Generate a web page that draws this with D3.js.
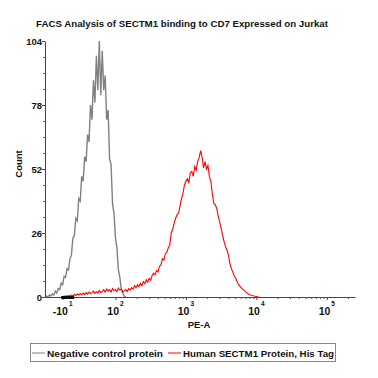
<!DOCTYPE html>
<html>
<head>
<meta charset="utf-8">
<script src="https://cdn.jsdelivr.net/npm/d3@7"></script>
<style>
  body { margin: 0; background: #fff; }
  text { font-family: 'Liberation Sans', Arial, sans-serif; font-weight: bold; fill: #111; }
</style>
</head>
<body>
<div id="chart"></div>
<script>
// Histogram data, x in log decades of PE-A (display units), y = count
const binStep = 1 / 48;

const negativeStart = 1.0;
const negativeCounts = [
  0, 0.4, 0, 0.8, 0.4, 1.2, 0.8, 2.4, 1.6, 3.4, 3.0, 5.6, 5.0, 8.4, 8.0, 11.5,
  11.0, 15.5, 17.0, 24.0, 25.0, 32.0, 31.0, 40.0, 39.0, 49.0, 47.0, 57.0, 55.0,
  66.0, 63.0, 78.0, 72.0, 88.0, 79.0, 98.0, 84.0, 104.0, 82.0, 100.0, 84.0,
  90.0, 72.0, 76.0, 56.0, 54.0, 38.0, 34.0, 24.0, 20.0, 11.0, 8.0, 3.0, 1.6, 0.4, 0
];

const sectm1Start = 1.25;
const sectm1Counts = [
  0.3, 0.2, 0.5, 0.3, 0.6, 0.4, 0.8, 0.5, 1.0, 0.6, 1.2, 0.8, 1.4, 0.9, 1.6, 1.0,
  1.8, 1.2, 2.0, 1.3, 1.8, 2.4, 1.5, 2.2, 1.6, 2.6, 1.8, 2.2, 3.0, 2.0, 3.2, 2.4,
  3.0, 2.0, 3.4, 2.6, 3.0, 2.2, 3.6, 2.8, 3.2, 2.0, 2.6, 3.0, 2.2, 3.4, 2.8, 3.8,
  3.2, 4.6, 3.8, 5.0, 4.2, 5.5, 4.6, 6.2, 5.4, 7.0, 6.0, 7.6, 6.8, 8.8, 9.6, 9.0,
  10.8, 10.2, 12.5, 13.0, 15.5, 15.0, 17.5, 18.2, 20.0, 21.0, 26.0, 27.5, 30.0,
  32.0, 33.5, 34.0, 37.0, 40.0, 42.0, 45.5, 47.0, 48.0, 46.5, 50.5, 51.0, 49.0,
  53.0, 51.5, 55.0, 56.5, 59.5, 57.0, 52.5, 55.0, 52.0, 53.5, 49.0, 47.0, 42.0,
  38.0, 37.5, 36.0, 33.0, 30.5, 28.0, 25.0, 22.5, 20.5, 19.0, 17.0, 13.5, 11.5,
  10.0, 8.5, 7.5, 6.0, 5.0, 4.2, 3.5, 3.0, 2.5, 2.0, 1.5, 1.0, 0.8, 0.6, 0.5,
  0.3, 0.2, 0, 0
];

const yTicks = [0, 26, 52, 78, 104];
const xTickDecades = [1.25, 2, 3, 4, 5];
const xTickBases = ['-10', '10', '10', '10', '10'];
const xTickExponents = ['1', '2', '3', '4', '5'];

const seriesNames = ['Negative control protein', 'Human SECTM1 Protein, His Tag'];
const seriesColors = ['#808080', '#ff0000'];

const width = 378;
const height = 378;
const margin = { top: 41, right: 23, bottom: 82, left: 45 };

const svg = d3.select('#chart').append('svg')
  .attr('width', width)
  .attr('height', height);

const x = d3.scaleLinear()
  .domain([1.0, 5.4])
  .range([margin.left, width - margin.right]);

const y = d3.scaleLinear()
  .domain([0, 104])
  .range([height - margin.bottom + 1, margin.top]);

// title
svg.append('text')
  .attr('x', 182)
  .attr('y', 27)
  .attr('text-anchor', 'middle')
  .attr('font-size', 9.5)
  .attr('textLength', 292)
  .attr('lengthAdjust', 'spacingAndGlyphs')
  .text('FACS Analysis of SECTM1 binding to CD7 Expressed on Jurkat');

// histograms
const toPoints = (start, counts) => counts.map((c, i) => [start + i * binStep, c]);
const line = d3.line().x(d => x(d[0])).y(d => y(d[1]));

svg.append('path')
  .datum(toPoints(negativeStart, negativeCounts))
  .attr('fill', 'none')
  .attr('stroke', seriesColors[0])
  .attr('stroke-width', 1.4)
  .attr('d', line);

svg.append('path')
  .datum(toPoints(sectm1Start, sectm1Counts))
  .attr('fill', 'none')
  .attr('stroke', seriesColors[1])
  .attr('stroke-width', 1.1)
  .attr('d', line);

// y axis
const yAxis = svg.append('g')
  .attr('transform', `translate(${margin.left},0)`)
  .call(d3.axisLeft(y).tickValues(yTicks).tickSize(3).tickSizeOuter(0));
yAxis.select('.domain').attr('stroke', '#444');
yAxis.selectAll('.tick line').attr('stroke', '#444');
yAxis.selectAll('.tick text')
  .attr('x', -3)
  .attr('font-size', 9.5)
  .attr('font-family', null);

const yMinor = d3.range(0, 104, 6.5).filter(v => v % 26 !== 0);
svg.append('g')
  .attr('transform', `translate(${margin.left},0)`)
  .call(d3.axisLeft(y).tickValues(yMinor).tickSize(2).tickFormat(''))
  .call(g => g.select('.domain').remove())
  .selectAll('line').attr('stroke', '#666');

svg.append('text')
  .attr('transform', `translate(22,164) rotate(-90)`)
  .attr('text-anchor', 'middle')
  .attr('font-size', 9.5)
  .text('Count');

// x axis
const baseY = y(0);
const xAxis = svg.append('g')
  .attr('transform', `translate(0,${baseY})`)
  .call(d3.axisBottom(x).tickValues(xTickDecades).tickSize(3).tickSizeOuter(0).tickFormat(''));
xAxis.select('.domain').attr('stroke', '#444');
xAxis.selectAll('.tick line').attr('stroke', '#444');

const xMinor = [];
[2, 3, 4, 5].forEach(n => {
  for (let k = 2; k <= 9; k++) {
    const v = n + Math.log10(k);
    if (v < 5.4) xMinor.push(v);
  }
});
svg.append('g')
  .attr('transform', `translate(0,${baseY})`)
  .call(d3.axisBottom(x).tickValues(xMinor).tickSize(2).tickFormat(''))
  .call(g => g.select('.domain').remove())
  .selectAll('line').attr('stroke', '#555');

// crowded ticks of the linear region around zero
svg.append('g')
  .attr('transform', `translate(0,${baseY - 1})`)
  .call(d3.axisBottom(x).tickValues(d3.range(1.23, 1.41, 0.01)).tickSize(3).tickFormat(''))
  .call(g => g.select('.domain').remove())
  .selectAll('line').attr('stroke', '#000');

const xLabel = svg.append('g').selectAll('text')
  .data(xTickDecades)
  .join('text')
  .attr('x', d => x(d))
  .attr('y', 315)
  .attr('text-anchor', 'middle')
  .attr('font-size', 10.5);
xLabel.append('tspan').text((d, i) => xTickBases[i]);
xLabel.append('tspan')
  .attr('dy', -9)
  .attr('dx', 1)
  .attr('font-size', 6.5)
  .text((d, i) => xTickExponents[i]);

svg.append('text')
  .attr('x', 199)
  .attr('y', 328)
  .attr('text-anchor', 'middle')
  .attr('font-size', 9.5)
  .text('PE-A');

// legend
svg.append('rect')
  .attr('x', 30.5)
  .attr('y', 343.5)
  .attr('width', 305)
  .attr('height', 18)
  .attr('fill', 'none')
  .attr('stroke', '#888');

const legendX = [32, 168];
const legendTextX = [47, 183];
const legendTextW = [116, 151];
seriesNames.forEach((name, i) => {
  svg.append('line')
    .attr('x1', legendX[i]).attr('x2', legendX[i] + 13)
    .attr('y1', 353).attr('y2', 353)
    .attr('stroke', seriesColors[i])
    .attr('stroke-width', 1);
  svg.append('text')
    .attr('x', legendTextX[i])
    .attr('y', 356.5)
    .attr('font-size', 9)
    .attr('textLength', legendTextW[i])
    .attr('lengthAdjust', 'spacingAndGlyphs')
    .text(name);
});
</script>
</body>
</html>
